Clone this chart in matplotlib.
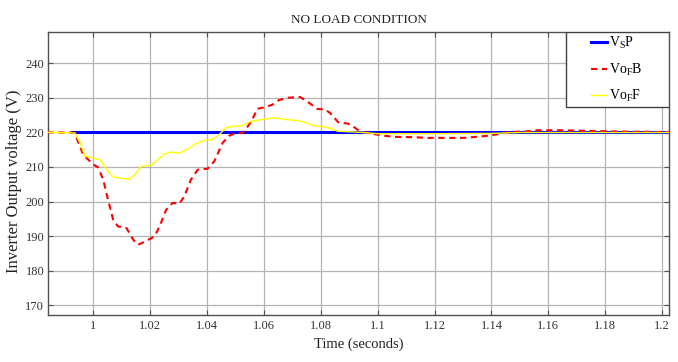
#!/usr/bin/env python3
from __future__ import annotations

import matplotlib

matplotlib.use("Agg")
import matplotlib.pyplot as plt
from matplotlib.patches import Rectangle

# Source reference (V_S P): constant 220 V
t_ref = [0.9927, 1.2025]
v_ref = [220.0, 220.0]

# Vo_F B (red dashed)
t_fb = [0.984, 0.9935, 0.9966, 1.0001, 1.0018, 1.0036, 1.0053, 1.0071, 1.0088, 1.0118,
        1.0141, 1.0158, 1.0187, 1.0216, 1.0234, 1.0257, 1.028, 1.0304, 1.0321, 1.0344,
        1.0368, 1.0403, 1.0426, 1.0455, 1.0478, 1.0502, 1.0525, 1.0542, 1.056, 1.0577,
        1.0606, 1.063, 1.0653, 1.0682, 1.0728, 1.0752, 1.0787, 1.0816, 1.0833, 1.0862,
        1.0897, 1.0914, 1.0938, 1.0979, 1.1025, 1.106, 1.113, 1.1176, 1.1304, 1.1386,
        1.1432, 1.1467, 1.1525, 1.156, 1.1642, 1.1758, 1.1874, 1.2025]
v_fb = [220.0, 219.9, 213.5, 210.7, 209.9, 206.3, 200.5, 194.7, 192.8, 192.3,
        189.0, 187.5, 188.6, 189.9, 192.8, 197.6, 199.6, 199.4, 201.5, 206.3,
        209.2, 209.5, 211.6, 216.9, 219.0, 219.8, 219.8, 221.5, 223.7, 226.8,
        227.3, 228.0, 229.3, 230.0, 230.2, 229.0, 226.8, 226.6, 225.6, 222.9,
        222.5, 221.7, 220.3, 219.6, 219.0, 218.7, 218.6, 218.4, 218.4, 219.0,
        219.6, 220.1, 220.3, 220.6, 220.6, 220.4, 220.2, 220.1]

# Vo_F F (yellow)
t_ff = [0.984, 0.9937, 0.9955, 0.9972, 1.0001, 1.0024, 1.0048, 1.0071, 1.01, 1.0129,
        1.0147, 1.017, 1.0205, 1.0228, 1.0251, 1.0275, 1.0304, 1.0333, 1.0362, 1.0391,
        1.042, 1.0443, 1.0467, 1.049, 1.0525, 1.0554, 1.0594, 1.0641, 1.0676, 1.0722,
        1.0752, 1.0775, 1.0816, 1.0862, 1.0944, 1.1002, 1.1176, 1.14, 1.15, 1.2025]
v_ff = [220.0, 219.8, 216.9, 213.1, 212.6, 212.1, 209.2, 207.1, 206.7, 206.5,
        207.8, 210.2, 210.5, 212.1, 213.8, 214.3, 214.0, 215.2, 216.7, 217.7,
        217.9, 219.3, 221.3, 221.7, 221.9, 223.2, 223.7, 224.2, 223.7, 223.4,
        222.7, 221.9, 221.6, 220.3, 220.0, 219.6, 219.6, 219.7, 219.95, 219.95]

x_ticks = [1.0, 1.02, 1.04, 1.06, 1.08, 1.1, 1.12, 1.14, 1.16, 1.18, 1.2]
x_tick_labels = ["1", "1.02", "1.04", "1.06", "1.08", "1.1", "1.12", "1.14", "1.16", "1.18", "1.2"]
y_ticks = [170, 180, 190, 200, 210, 220, 230, 240]


def make_plot() -> plt.Figure:
    plt.rcParams["font.family"] = ["Liberation Serif", "DejaVu Serif"]
    plt.rcParams["mathtext.fontset"] = "custom"
    plt.rcParams["mathtext.rm"] = "Liberation Serif"
    plt.rcParams["mathtext.it"] = "Liberation Serif"

    fig = plt.figure(figsize=(6.78, 3.62), dpi=100)
    ax = fig.add_axes([0.0704, 0.129, 0.9168, 0.7834])

    ax.plot(t_ref, v_ref, color="#0000ff", linewidth=2.2, label=r"V$_\mathrm{S}$P", zorder=3)
    ax.plot(t_fb, v_fb, color="#ff0000", linewidth=1.5, dashes=(3.0, 2.2),
            label=r"Vo$_\mathrm{F}$B", zorder=4)
    ax.plot(t_ff, v_ff, color="#ffff00", linewidth=1.0, label=r"Vo$_\mathrm{F}$F", zorder=5)

    ax.set_xlim(0.9841, 1.2025)
    ax.set_ylim(167.1, 249.1)
    ax.set_xticks(x_ticks)
    ax.set_xticklabels(x_tick_labels)
    ax.set_yticks(y_ticks)

    ax.grid(True, color="#b4b4b4", linewidth=0.9)
    ax.set_axisbelow(True)
    for spine in ax.spines.values():
        spine.set_color("#505050")
        spine.set_linewidth(1.0)
    ax.tick_params(axis="both", direction="in", length=3.5, width=0.8, color="#505050",
                   labelsize=9, labelcolor="#333333", top=True, right=True)
    ax.tick_params(axis="y", pad=2.5)

    ax.set_title("NO LOAD CONDITION", fontsize=9.5, color="#222222", pad=6)
    ax.set_xlabel("Time (seconds)", fontsize=10.5, color="#222222", labelpad=4)
    ax.set_ylabel("Inverter Output voltage (V)", fontsize=12, color="#222222")
    ax.yaxis.set_label_coords(-0.042, 0.472)

    # Legend box sits flush in the upper-right corner, entries centred inside it.
    frame = Rectangle((0.8338, 0.7356), 0.1662, 0.2644, transform=ax.transAxes,
                      facecolor="white", edgecolor="#404040", linewidth=1.0, zorder=6)
    ax.add_patch(frame)
    leg = ax.legend(loc="center", bbox_to_anchor=(0.916, 0.8667), frameon=False,
                    fontsize=10, handlelength=1.1, handletextpad=0.2, labelspacing=0.75,
                    borderpad=0.0)
    leg.set_zorder(7)

    return fig


def main() -> None:
    fig = make_plot()
    fig.savefig("out.png", dpi=100)
    plt.close(fig)


if __name__ == "__main__":
    main()
